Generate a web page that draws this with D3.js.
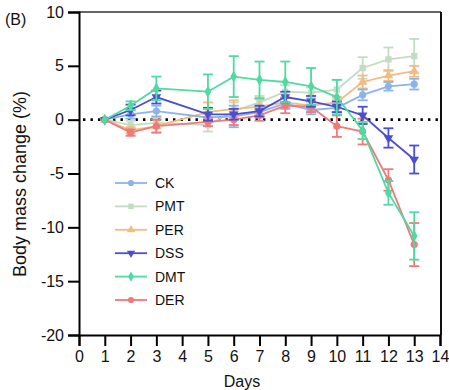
<!DOCTYPE html>
<html><head><meta charset="utf-8">
<script src="https://cdn.jsdelivr.net/npm/d3@7"></script>
<style>body{margin:0;background:#fff}svg{display:block}text{font-family:"Liberation Sans",Arial,sans-serif}</style>
</head><body><svg id="c" width="449" height="390"></svg>
<script>
const days = [1,2,3,5,6,7,8,9,10,11,12,13];
const xTicks = [0,1,2,3,4,5,6,7,8,9,10,11,12,13,14];
const yTicks = [10,5,0,-5,-10,-15,-20];
const seriesNames = ["CK","PMT","PER","DSS","DMT","DER"];
const CK     = [0, 0.5, 0.8, 0.2, 0.3, 0.7, 1.5, 0.9, 1.1, 2.3, 3.1, 3.3];
const CK_err = [0, 0.4, 0.5, 0.4, 1.0, 0.5, 0.5, 0.4, 0.4, 0.5, 0.4, 0.5];
const PMT     = [0, -0.5, -0.3, -0.5, 0.8, 1.6, 2.6, 2.5, 2.8, 4.8, 5.6, 5.9];
const PMT_err = [0, 0.4, 0.5, 0.6, 0.8, 0.6, 0.6, 0.5, 0.9, 1.0, 1.1, 1.6];
const PER     = [0, -1.0, -0.6, 0.7, 1.0, 1.2, 1.6, 1.3, 1.6, 3.5, 4.1, 4.5];
const PER_err = [0, 0.3, 0.6, 0.9, 0.8, 0.7, 0.5, 0.5, 0.5, 0.6, 0.5, 0.5];
const DSS     = [0, 0.9, 2.1, 0.5, 0.5, 0.8, 2.1, 1.7, 1.2, 0.4, -1.7, -3.7];
const DSS_err = [0, 0.5, 0.6, 0.6, 0.5, 0.5, 0.5, 0.5, 0.5, 0.8, 0.9, 1.3];
const DMT     = [0, 1.3, 2.9, 2.6, 4.0, 3.7, 3.5, 3.1, 2.1, -1.0, -6.8, -10.8];
const DMT_err = [0, 0.4, 1.1, 1.6, 1.9, 1.7, 1.9, 1.7, 1.6, 0.8, 1.1, 2.2];
const DER     = [0, -1.2, -0.6, -0.2, 0.0, 0.4, 1.3, 1.2, -0.6, -1.1, -5.6, -11.6];
const DER_err = [0, 0.3, 0.6, 0.4, 0.5, 0.5, 0.7, 0.5, 1.0, 1.2, 1.0, 2.0];

const colors = {CK:"#8db4ea",PMT:"#c4dbc4",PER:"#f2bb7f",DSS:"#4a4fd0",DMT:"#4fdaa3",DER:"#ee7a7a"};
const symbols = {CK:d3.symbolCircle,PMT:d3.symbolSquare,PER:d3.symbolTriangle,DSS:d3.symbolTriangle,DMT:d3.symbolDiamond,DER:d3.symbolCircle};
const rot = {DSS:180};
const data = {CK:[CK,CK_err],PMT:[PMT,PMT_err],PER:[PER,PER_err],DSS:[DSS,DSS_err],DMT:[DMT,DMT_err],DER:[DER,DER_err]};
const drawOrder = ["PMT","PER","CK","DER","DSS","DMT"];

const svg = d3.select("#c");
const x = d3.scaleLinear().domain([0,14]).range([79,440]);
const y = d3.scaleLinear().domain([-20,10]).range([335,12]);

// frame top/right
svg.append("line").attr("x1",79).attr("x2",441).attr("y1",12).attr("y2",12).attr("stroke","#333").attr("stroke-width",1.5);
svg.append("line").attr("x1",441).attr("x2",441).attr("y1",12).attr("y2",335).attr("stroke","#111").attr("stroke-width",2);

// zero dotted line
svg.append("line").attr("x1",x(0)+4).attr("x2",x(14)).attr("y1",y(0)).attr("y2",y(0))
  .attr("stroke","#000").attr("stroke-width",2.6).attr("stroke-dasharray","2.4,5.1");

const gx = svg.append("g").attr("transform",`translate(0,${y(-20)})`)
  .call(d3.axisBottom(x).tickValues(xTicks).tickFormat(d3.format("d")).tickSize(11).tickPadding(5));
const gy = svg.append("g").attr("transform",`translate(${x(0)},0)`)
  .call(d3.axisLeft(y).tickValues(yTicks).tickFormat(d=>d<0?"-"+Math.abs(d):d).tickSize(11).tickPadding(4));
[gx,gy].forEach(g=>{
  g.select(".domain").attr("stroke","#000").attr("stroke-width",2);
  g.selectAll(".tick line").attr("stroke","#000").attr("stroke-width",2);
  g.selectAll("text").attr("font-size",16).attr("fill","#111").attr("font-family","'Liberation Sans',Arial,sans-serif");
});

const line = d3.line().x(d=>x(d.d)).y(d=>y(d.v));
drawOrder.forEach(name=>{
  const [vals,errs] = data[name];
  const pts = days.map((d,i)=>({d,v:vals[i],e:errs[i]}));
  const g = svg.append("g");
  const c = colors[name];
  pts.forEach(p=>{
    if(p.e>0){
      g.append("line").attr("x1",x(p.d)).attr("x2",x(p.d)).attr("y1",y(p.v-p.e)).attr("y2",y(p.v+p.e)).attr("stroke",c).attr("stroke-width",1.8);
      [p.v-p.e,p.v+p.e].forEach(v=>g.append("line").attr("x1",x(p.d)-5).attr("x2",x(p.d)+5).attr("y1",y(v)).attr("y2",y(v)).attr("stroke",c).attr("stroke-width",1.8));
    }
  });
  g.append("path").datum(pts).attr("d",line).attr("fill","none").attr("stroke",c).attr("stroke-width",1.8);
  g.selectAll("path.m").data(pts).enter().append("path").attr("class","m")
    .attr("d",d3.symbol().type(symbols[name]).size(40))
    .attr("transform",p=>`translate(${x(p.d)},${y(p.v)}) rotate(${rot[name]||0})`)
    .attr("fill",c);
});

// legend
const leg = svg.append("g");
seriesNames.forEach((name,i)=>{
  const yy = 183 + i*23.4;
  leg.append("line").attr("x1",115).attr("x2",147).attr("y1",yy).attr("y2",yy).attr("stroke",colors[name]).attr("stroke-width",1.8);
  leg.append("path").attr("d",d3.symbol().type(symbols[name]).size(30)).attr("transform",`translate(131,${yy}) rotate(${rot[name]||0})`).attr("fill",colors[name]);
  leg.append("text").attr("x",155).attr("y",yy+5).attr("font-size",14).attr("fill","#111").text(name);
});

svg.append("text").attr("transform","translate(26,184) rotate(-90)").attr("text-anchor","middle").attr("font-size",18).attr("fill","#111").text("Body mass change (%)");
svg.append("text").attr("x",242).attr("y",387).attr("text-anchor","middle").attr("font-size",16).attr("fill","#111").text("Days");
svg.append("text").attr("x",5).attr("y",25).attr("font-size",16).attr("fill","#111").text("(B)");
</script></body></html>
